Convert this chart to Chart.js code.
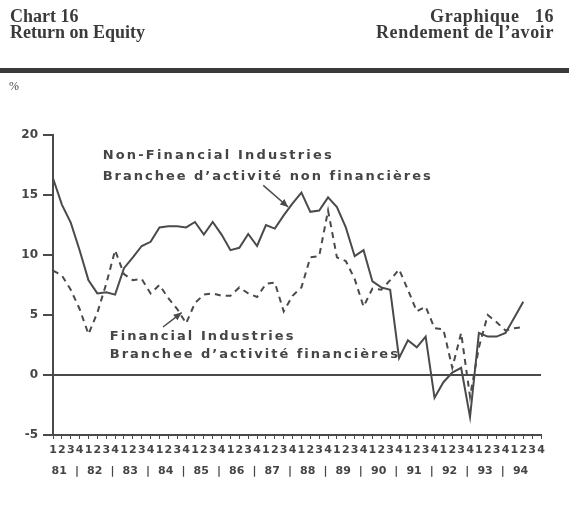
<!DOCTYPE html>
<html>
<head>
<meta charset="utf-8">
<script src="https://cdn.jsdelivr.net/npm/chart.js@4.4.1/dist/chart.umd.min.js"></script>
<style>
  html, body { margin: 0; padding: 0; background: #fff; }
  #wrap { position: relative; width: 569px; height: 509px; overflow: hidden; background: #fff; }
  canvas { position: absolute; left: 0; top: 0; }
  .hd { position: absolute; font-family: "Liberation Serif", serif; font-weight: bold; font-size: 18px; color: #3a3a3a; line-height: 16px; white-space: nowrap; }
  #rule { position: absolute; left: 0; top: 68px; width: 569px; height: 5px; background: #3a3a3a; }
  #pct { position: absolute; left: 9px; top: 79px; font-family: "Liberation Serif", serif; font-size: 12px; color: #444; }
</style>
</head>
<body>
<div id="wrap">
  <canvas id="c" width="569" height="509"></canvas>
  <div class="hd" style="left:10px; top:8px;">Chart 16<br>Return on Equity</div>
  <div class="hd" style="right:15px; top:8px; text-align:right; letter-spacing:0.6px;">Graphique&nbsp;&nbsp;&nbsp;16<br>Rendement de l’avoir</div>
  <div id="rule"></div>
  <div id="pct">%</div>
</div>
<script>
// ---- data ----
const years = ['81','82','83','84','85','86','87','88','89','90','91','92','93','94'];
const quarters = ['1','2','3','4'];
const categories = [];
years.forEach(() => quarters.forEach(q => categories.push(q)));

const nonFinancial = [16.4, 14.2, 12.7, 10.4, 7.9, 6.8, 6.9, 6.7,
  8.9, 9.8, 10.75, 11.1, 12.3, 12.4, 12.4, 12.3,
  12.75, 11.7, 12.75, 11.7, 10.4, 10.6, 11.75, 10.75,
  12.5, 12.2, 13.3, 14.3, 15.2, 13.6, 13.7, 14.8,
  14.0, 12.3, 9.9, 10.4, 7.8, 7.3, 7.1, 1.4,
  2.9, 2.3, 3.2, -1.9, -0.6, 0.2, 0.6, -3.5,
  3.5, 3.2, 3.2, 3.5, 4.8, 6.1];

const financial = [8.7, 8.3, 7.1, 5.5, 3.4, 5.2, 7.6, 10.4,
  8.4, 7.9, 8.0, 6.8, 7.5, 6.4, 5.5, 4.3,
  6.0, 6.7, 6.8, 6.6, 6.6, 7.3, 6.8, 6.5,
  7.6, 7.7, 5.3, 6.6, 7.3, 9.8, 9.9, 13.7,
  9.8, 9.5, 8.0, 5.7, 7.2, 7.1, 7.9, 8.8,
  7.1, 5.3, 5.7, 3.9, 3.8, 0.6, 3.5, -1.8,
  2.3, 5.0, 4.4, 3.7, 3.9, 4.0];

const yTicks = [-5, 0, 5, 10, 15, 20];

const nonFinLabel = ['Non-Financial Industries', 'Branchee d’activité non financières'];
const finLabel = ['Financial Industries', 'Branchee d’activité financières'];

// ---- drawing ----
const INK = '#4a4a4a';
const TXT = '#454545';
const SANS = '"DejaVu Sans", "Liberation Sans", Arial, sans-serif';

const extras = {
  id: 'extras',
  afterDraw(chart) {
    const ctx = chart.ctx;
    const xs = chart.scales.x, ys = chart.scales.y;
    ctx.save();
    // year row
    ctx.fillStyle = TXT;
    ctx.font = 'bold 11px ' + SANS;
    ctx.textAlign = 'center';
    ctx.textBaseline = 'middle';
    const yr = 471;
    years.forEach((y, i) => {
      ctx.fillText(y, xs.getPixelForValue(4 * i + 0.7), yr);
      if (i < years.length - 1) ctx.fillText('|', xs.getPixelForValue(4 * i + 2.7), yr);
    });

    // annotation text, spaced to fit a given width
    ctx.textAlign = 'left';
    ctx.font = 'bold 13px ' + SANS;
    function spaced(text, x0, x1, yv) {
      ctx.letterSpacing = '0px';
      const left = xs.getPixelForValue(x0), right = xs.getPixelForValue(x1);
      const w = ctx.measureText(text).width;
      const sp = Math.max(0, (right - left - w) / (text.length - 1));
      ctx.letterSpacing = sp.toFixed(2) + 'px';
      ctx.fillText(text, left, ys.getPixelForValue(yv));
      ctx.letterSpacing = '0px';
    }
    spaced(nonFinLabel[0], 5.6, 31.4, 18.3);
    spaced(nonFinLabel[1], 5.6, 42.5, 16.55);
    spaced(finLabel[0], 6.4, 27.1, 3.2);
    spaced(finLabel[1], 6.4, 38.8, 1.7);

    // arrows
    function arrow(x1, y1, x2, y2) {
      const a = xs.getPixelForValue(x1), b = ys.getPixelForValue(y1);
      const c = xs.getPixelForValue(x2), d = ys.getPixelForValue(y2);
      ctx.strokeStyle = INK; ctx.fillStyle = INK; ctx.lineWidth = 1.5;
      ctx.beginPath(); ctx.moveTo(a, b); ctx.lineTo(c, d); ctx.stroke();
      const ang = Math.atan2(d - b, c - a), L = 8, W = 3.5;
      ctx.beginPath();
      ctx.moveTo(c, d);
      ctx.lineTo(c - L * Math.cos(ang) + W * Math.sin(ang), d - L * Math.sin(ang) - W * Math.cos(ang));
      ctx.lineTo(c - L * Math.cos(ang) - W * Math.sin(ang), d - L * Math.sin(ang) + W * Math.cos(ang));
      ctx.closePath(); ctx.fill();
    }
    arrow(23.7, 15.8, 26.5, 14.0);
    arrow(12.4, 4.0, 14.5, 5.2);
    ctx.restore();
  }
};

new Chart(document.getElementById('c'), {
  type: 'line',
  data: {
    labels: categories,
    datasets: [
      { label: 'Non-Financial', data: nonFinancial, borderColor: INK, borderWidth: 2, pointRadius: 0, tension: 0, fill: false },
      { label: 'Financial', data: financial, borderColor: INK, borderWidth: 2, borderDash: [6, 5], pointRadius: 0, tension: 0, fill: false }
    ]
  },
  options: {
    responsive: false,
    animation: false,
    devicePixelRatio: 1,
    layout: { padding: { top: 135, right: 28, left: 0, bottom: 0 } },
    plugins: { legend: { display: false }, tooltip: { enabled: false } },
    scales: {
      x: {
        type: 'category',
        offset: false,
        afterFit(s) { s.height = 74; },
        grid: { drawOnChartArea: false, color: INK, tickColor: INK, tickLength: 4, lineWidth: 1 },
        border: { color: INK, width: 2 },
        ticks: { autoSkip: false, maxRotation: 0, minRotation: 0, padding: 5, color: TXT,
          font: { family: SANS, size: 11, weight: 'bold' } }
      },
      y: {
        min: -5, max: 20,
        afterFit(s) { s.width = 53; },
        afterBuildTicks(s) { s.ticks = yTicks.map(v => ({ value: v })); },
        grid: {
          color: c => (c.tick && c.tick.value === 0) ? INK : 'rgba(0,0,0,0)',
          lineWidth: 2, tickColor: INK, tickLength: 10
        },
        border: { color: INK, width: 2 },
        ticks: { padding: 5, color: TXT,
          font: { family: SANS, size: 12, weight: 'bold' } }
      }
    }
  },
  plugins: [extras]
});
</script>
</body>
</html>
